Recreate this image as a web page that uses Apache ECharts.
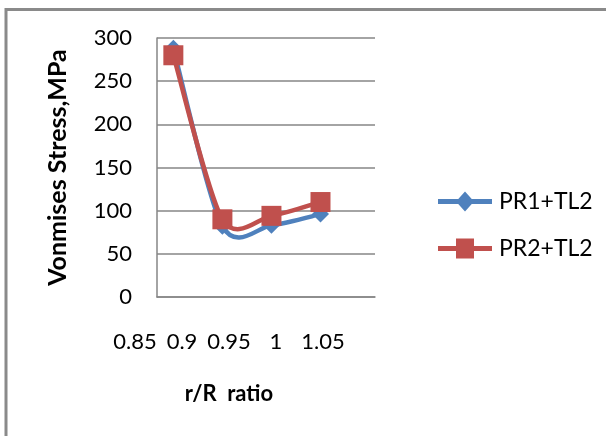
<!DOCTYPE html>
<html>
<head>
<meta charset="utf-8">
<script src="https://cdn.jsdelivr.net/npm/echarts@6/dist/echarts.min.js"></script>
<style>
  html, body { margin: 0; padding: 0; background: #fff; }
  #chart { width: 606px; height: 436px; }
</style>
</head>
<body>
<div id="chart"></div>
<script>
// r/R ratio for each measured configuration
const ratios = [0.865, 0.91, 0.955, 1.0];
// Von Mises stress (MPa)
const pr1tl2 = [288, 82, 83, 96];
const pr2tl2 = [280, 90, 94, 110];
const seriesNames = ['PR1+TL2', 'PR2+TL2'];
const xTitle = 'r/R  ratio';
const yTitle = 'Vonmises Stress,MPa';

const FONT = 'Lato';
const gridGray = '#868686';
const BLUE = '#4F81BD';
const RED = '#C0504D';
const TENSION = 1 / 7;

const chart = echarts.init(document.getElementById('chart'), null, { renderer: 'canvas' });

const pair = (xs, ys) => xs.map((x, i) => [x, ys[i]]);

// Smoothed segment between point i and i+1 (cardinal spline),
// positioned through the cartesian axes of the grid.
function curveRenderer(ys, color) {
  return function (params, api) {
    const n = ys.length;
    const i = params.dataIndex;
    if (i >= n - 1) return null;
    const P = k => {
      const j = Math.max(0, Math.min(n - 1, k));
      return api.coord([ratios[j], ys[j]]);
    };
    const p0 = P(i - 1), p1 = P(i), p2 = P(i + 1), p3 = P(i + 2);
    return {
      type: 'bezierCurve',
      shape: {
        x1: p1[0], y1: p1[1],
        x2: p2[0], y2: p2[1],
        cpx1: p1[0] + (p2[0] - p0[0]) * TENSION, cpy1: p1[1] + (p2[1] - p0[1]) * TENSION,
        cpx2: p2[0] - (p3[0] - p1[0]) * TENSION, cpy2: p2[1] - (p3[1] - p1[1]) * TENSION
      },
      style: { stroke: color, lineWidth: 4.5, fill: null, lineCap: 'round' }
    };
  };
}

const lineIcon = 'path://M0,7.5 H54 V12.5 H0 Z ';
const diamondIcon = lineIcon + 'M27,0 L36,10 L27,20 L18,10 Z';
const squareIcon = lineIcon + 'M18,0 H36 V20 H18 Z';

chart.setOption({
  backgroundColor: '#ffffff',
  animation: false,
  textStyle: { fontFamily: FONT, color: '#000' },
  graphic: [{
    type: 'rect',
    shape: { x: 6, y: 9.5, width: 700, height: 500 },
    style: { fill: 'none', stroke: '#8a8a8a', lineWidth: 3 },
    silent: true
  }],
  grid: [
    { left: 157, top: 38, width: 218, height: 259, containLabel: false },
    // tick labels and axis title of the r/R scale
    { left: 135, top: 38, width: 188, height: 259, containLabel: false }
  ],
  xAxis: [
    {
      type: 'value', gridIndex: 0, min: 0.85, max: 1.05, interval: 0.05,
      axisLine: { show: true, lineStyle: { color: gridGray, width: 1.5 } },
      axisTick: { show: false },
      axisLabel: { show: false },
      splitLine: { show: false }
    },
    {
      type: 'value', gridIndex: 1, min: 0.85, max: 1.05, interval: 0.05,
      axisLine: { show: false },
      axisTick: { show: false },
      splitLine: { show: false },
      axisLabel: { margin: 34, fontSize: 22, fontFamily: FONT, color: '#000' },
      name: xTitle, nameLocation: 'middle', nameGap: 86,
      nameTextStyle: { fontSize: 22, fontWeight: 'bold', fontFamily: FONT, color: '#000' }
    }
  ],
  yAxis: [
    {
      type: 'value', gridIndex: 0, min: 0, max: 300, interval: 50,
      axisLine: { show: true, lineStyle: { color: gridGray, width: 1.5 } },
      axisTick: { show: false },
      axisLabel: { margin: 25, fontSize: 22, fontFamily: FONT, color: '#000' },
      splitLine: { show: true, lineStyle: { color: gridGray, width: 1.5 } },
      name: yTitle, nameLocation: 'middle', nameGap: 87, nameRotate: 90,
      nameTextStyle: { fontSize: 25, fontWeight: 'bold', fontFamily: FONT, color: '#000' }
    },
    {
      type: 'value', gridIndex: 1, min: 0, max: 300, show: false
    }
  ],
  legend: {
    orient: 'vertical',
    left: 438, top: 190, padding: 0,
    itemWidth: 54, itemHeight: 20, itemGap: 24,
    textStyle: { fontSize: 23, fontFamily: FONT, color: '#000', padding: [0, 0, 0, 2] },
    data: [
      { name: seriesNames[0], icon: diamondIcon },
      { name: seriesNames[1], icon: squareIcon }
    ]
  },
  series: [
    {
      name: seriesNames[0] + ' ', type: 'custom', coordinateSystem: 'cartesian2d',
      xAxisIndex: 0, yAxisIndex: 0, z: 2,
      data: pair(ratios, pr1tl2),
      renderItem: curveRenderer(pr1tl2, BLUE)
    },
    {
      name: seriesNames[0], type: 'line', xAxisIndex: 0, yAxisIndex: 0, z: 3,
      data: pair(ratios, pr1tl2),
      symbol: 'diamond', symbolSize: 17,
      lineStyle: { width: 0, opacity: 0 },
      itemStyle: { color: BLUE }
    },
    {
      name: seriesNames[1] + ' ', type: 'custom', coordinateSystem: 'cartesian2d',
      xAxisIndex: 0, yAxisIndex: 0, z: 4,
      data: pair(ratios, pr2tl2),
      renderItem: curveRenderer(pr2tl2, RED)
    },
    {
      name: seriesNames[1], type: 'line', xAxisIndex: 0, yAxisIndex: 0, z: 5,
      data: pair(ratios, pr2tl2),
      symbol: 'rect', symbolSize: 20,
      lineStyle: { width: 0, opacity: 0 },
      itemStyle: { color: RED }
    }
  ]
});
</script>
</body>
</html>
